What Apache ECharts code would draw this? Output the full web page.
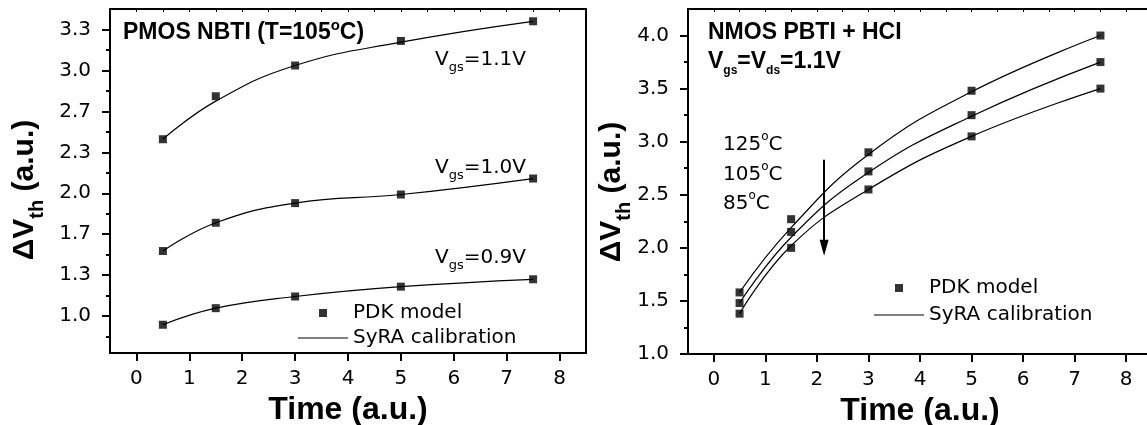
<!DOCTYPE html>
<html>
<head>
<meta charset="utf-8">
<title>NBTI / PBTI+HCI calibration</title>
<script src="https://cdn.jsdelivr.net/npm/echarts@6/dist/echarts.min.js"></script>
<style>
html, body { margin: 0; padding: 0; background: #fff; }
#main_left { position: absolute; left: 0; top: 0; width: 595px; height: 425px; }
#main_right { position: absolute; left: 595px; top: 0; width: 552px; height: 425px; }
</style>
</head>
<body>
<div id="main_left"></div>
<div id="main_right"></div>
<script>
// time points (a.u.)
var timeX = [0.5, 1.5, 3, 5, 7.5];
var xTicks = [0, 1, 2, 3, 4, 5, 6, 7, 8];
var xMinorTicks = [0, 0.5, 1, 1.5, 2, 2.5, 3, 3.5, 4, 4.5, 5, 5.5, 6, 6.5, 7, 7.5, 8];

// PMOS NBTI (T=105C) - PDK model points and SyRA curves
var pdk11 = [2.44, 2.79, 3.04, 3.24, 3.40];
var pdk10 = [1.53, 1.76, 1.92, 1.99, 2.12];
var pdk09 = [0.93, 1.065, 1.16, 1.24, 1.30];
var fit11 = [2.44, 2.75, 3.04, 3.23, 3.40];
var fit10 = [1.53, 1.76, 1.92, 1.99, 2.12];
var fit09 = [0.93, 1.065, 1.16, 1.24, 1.30];
var leftYTicks = [1.0, 1.333, 1.667, 2.0, 2.333, 2.667, 3.0, 3.333];
var leftYMinor = [0.833, 1.167, 1.5, 1.833, 2.167, 2.5, 2.833, 3.167];

// NMOS PBTI + HCI, Vgs=Vds=1.1V
var pdk125 = [1.58, 2.27, 2.90, 3.48, 4.00];
var pdk105 = [1.48, 2.15, 2.72, 3.25, 3.75];
var pdk85 = [1.38, 2.00, 2.55, 3.05, 3.50];
var fit125 = [1.58, 2.19, 2.88, 3.47, 4.00];
var fit105 = [1.48, 2.10, 2.71, 3.24, 3.75];
var fit85 = [1.38, 2.02, 2.55, 3.05, 3.50];
var rightYTicks = [1.0, 1.5, 2.0, 2.5, 3.0, 3.5, 4.0];
var rightYMinor = [1.25, 1.75, 2.25, 2.75, 3.25, 3.75];
var arrowFrom = [2.14, 2.83];
var arrowTo = [2.14, 2.0];

function pairs(xs, ys) {
    return xs.map(function (x, i) { return [x, ys[i]]; });
}

var black = '#000';
var regFont = 'DejaVu Sans';
var boldFont = 'Liberation Sans';

function xAxes() {
    return [{
        type: 'value', min: -0.5, max: 8.5, position: 'bottom',
        name: 'Time (a.u.)', nameLocation: 'middle', nameGap: 39,
        nameTextStyle: { fontFamily: boldFont, fontWeight: 'bold', fontSize: 32, color: black },
        axisLine: { show: true, onZero: false, lineStyle: { color: black, width: 2 } },
        axisTick: { show: true, length: 8, customValues: xTicks, lineStyle: { color: black, width: 2 } },
        axisLabel: { customValues: xTicks, margin: 16, fontFamily: regFont, fontSize: 20, color: black },
        splitLine: { show: false }
    }, {
        type: 'value', min: -0.5, max: 8.5, position: 'top',
        axisLine: { show: true, onZero: false, lineStyle: { color: black, width: 2 } },
        axisTick: { show: true, inside: true, length: 3, customValues: xMinorTicks, lineStyle: { color: black } },
        axisLabel: { show: false },
        splitLine: { show: false }
    }];
}

// gridWidth: the 'right' axis is pulled back onto the left border to carry the minor ticks
function yAxes(min, max, majors, minors, gridWidth) {
    return [{
        type: 'value', min: min, max: max, position: 'left',
        axisLine: { show: true, onZero: false, lineStyle: { color: black, width: 2 } },
        axisTick: { show: true, length: 8, customValues: majors, lineStyle: { color: black, width: 2 } },
        axisLabel: {
            customValues: majors, margin: 19, fontFamily: regFont, fontSize: 20, color: black,
            formatter: function (v) { return v.toFixed(1); }
        },
        splitLine: { show: false }
    }, {
        type: 'value', min: min, max: max, position: 'right', offset: -gridWidth,
        axisLine: { show: false, onZero: false },
        axisTick: { show: true, inside: true, length: 4, customValues: minors, lineStyle: { color: black, width: 2 } },
        axisLabel: { show: false },
        splitLine: { show: false }
    }];
}

function pdkSeries(ys) {
    return {
        name: 'PDK model', type: 'scatter', data: pairs(timeX, ys),
        symbol: 'rect', symbolSize: 8, itemStyle: { color: black }, z: 3
    };
}
function fitSeries(ys) {
    return {
        name: 'SyRA calibration', type: 'line', data: pairs(timeX, ys),
        smooth: 0.45, symbol: 'none',
        lineStyle: { color: black, width: 1.2 }, itemStyle: { color: black }
    };
}

function legendAt(left, top, gap) {
    return {
        orient: 'vertical', left: left, top: top, padding: 0,
        itemWidth: 50, itemHeight: 8, itemGap: gap,
        selectedMode: false,
        textStyle: { fontFamily: regFont, fontSize: 20, color: black },
        data: [
            { name: 'PDK model', icon: 'path://M0 0H10V10H0Z' },
            { name: 'SyRA calibration', icon: 'path://M0 0H50V1.2H0Z' }
        ]
    };
}

var regRich = {
    n: { fontFamily: regFont, fontSize: 20, lineHeight: 28, fill: black },
    s: { fontFamily: regFont, fontSize: 13, lineHeight: 13, verticalAlign: 'bottom', fill: black },
    o: { fontFamily: regFont, fontSize: 12, lineHeight: 16, verticalAlign: 'top', fill: black }
};
var boldRich = {
    n: { fontFamily: boldFont, fontWeight: 'bold', fontSize: 23, lineHeight: 30, fill: black },
    s: { fontFamily: boldFont, fontWeight: 'bold', fontSize: 12, lineHeight: 12, verticalAlign: 'bottom', fill: black },
    o: { fontFamily: boldFont, fontWeight: 'bold', fontSize: 15, lineHeight: 18, verticalAlign: 'top', fill: black }
};
var axisRich = {
    n: { fontFamily: boldFont, fontWeight: 'bold', fontSize: 30, lineHeight: 44, fill: black },
    s: { fontFamily: boldFont, fontWeight: 'bold', fontSize: 20, lineHeight: 16, verticalAlign: 'bottom', fill: black }
};

function label(x, y, text, rich) {
    return { type: 'text', x: x, y: y, silent: true,
        style: { text: text, rich: rich, align: 'left', verticalAlign: 'middle' } };
}
function yName(x, y) {
    return { type: 'text', x: x, y: y, rotation: Math.PI / 2, silent: true,
        style: { text: '{n|\u0394V}{s|th}{n| (a.u.)}', rich: axisRich, align: 'center', verticalAlign: 'middle' } };
}

// 左图: PMOS NBTI
var myChart = echarts.init(document.getElementById('main_left'));
var option = {
    animation: false,
    backgroundColor: '#fff',
    grid: { left: 110, right: 9, top: 9, bottom: 72, outerBoundsMode: 'none',
        show: true, borderColor: black, borderWidth: 2, backgroundColor: 'transparent' },
    xAxis: xAxes(),
    yAxis: yAxes(0.7, 3.5, leftYTicks, leftYMinor, 476),
    legend: legendAt(298, 303, 5),
    series: [
        fitSeries(fit11), fitSeries(fit10), fitSeries(fit09),
        pdkSeries(pdk11), pdkSeries(pdk10), pdkSeries(pdk09)
    ],
    graphic: [
        yName(25, 190),
        label(123, 33, '{n|PMOS NBTI (T=105}{o|o}{n|C)}', boldRich),
        label(435, 60, '{n|V}{s|gs}{n|=1.1V}', regRich),
        label(435, 168, '{n|V}{s|gs}{n|=1.0V}', regRich),
        label(435, 258, '{n|V}{s|gs}{n|=0.9V}', regRich)
    ]
};
myChart.setOption(option);

// 右图: NMOS PBTI + HCI
var myChart2 = echarts.init(document.getElementById('main_right'));
var fit125Series = fitSeries(fit125);
fit125Series.markLine = {
    silent: true, symbol: ['none', 'triangle'], symbolSize: [9, 16],
    label: { show: false },
    lineStyle: { color: black, width: 2, type: 'solid' },
    data: [[{ coord: arrowFrom }, { coord: arrowTo }]]
};
var option2 = {
    animation: false,
    backgroundColor: '#fff',
    grid: { left: 93, right: -5, top: 9, bottom: 71, outerBoundsMode: 'none',
        show: true, borderColor: black, borderWidth: 2, backgroundColor: 'transparent' },
    xAxis: xAxes(),
    yAxis: yAxes(1.0, 4.25, rightYTicks, rightYMinor, 464),
    legend: legendAt(279, 278, 7),
    series: [
        fit125Series, fitSeries(fit105), fitSeries(fit85),
        pdkSeries(pdk125), pdkSeries(pdk105), pdkSeries(pdk85)
    ],
    graphic: [
        yName(17, 192),
        label(113, 33, '{n|NMOS PBTI + HCI}', boldRich),
        label(113, 62, '{n|V}{s|gs}{n|=V}{s|ds}{n|=1.1V}', boldRich),
        label(128, 145, '{n|125}{o|o}{n|C}', regRich),
        label(128, 175, '{n|105}{o|o}{n|C}', regRich),
        label(128, 204, '{n|85}{o|o}{n|C}', regRich)
    ]
};
myChart2.setOption(option2);
</script>
</body>
</html>
